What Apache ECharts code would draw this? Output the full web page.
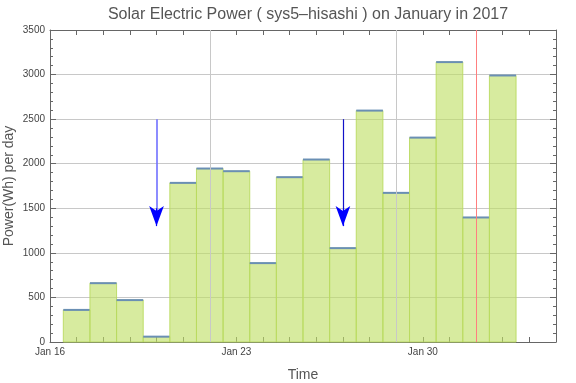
<!DOCTYPE html>
<html>
<head>
<meta charset="utf-8">
<script src="https://cdn.jsdelivr.net/npm/echarts@6/dist/echarts.min.js"></script>
<style>html,body{margin:0;padding:0;background:#fff}#c{width:576px;height:383px}</style>
</head>
<body>
<div id="c"></div>
<script>
// ---- data ----
var dates = ['2017-01-17','2017-01-18','2017-01-19','2017-01-20','2017-01-21','2017-01-22','2017-01-23','2017-01-24','2017-01-25','2017-01-26','2017-01-27','2017-01-28','2017-01-29','2017-01-30','2017-01-31','2017-02-01','2017-02-02'];
var power = [360, 660, 470, 60, 1785, 1946, 1916, 885, 1849, 2047, 1053, 2596, 1673, 2293, 3140, 1397, 2990];
var xLabelDates = ['2017-01-16','2017-01-23','2017-01-30'];
var gridDates = ['2017-01-22','2017-01-29'];
var markerDate = '2017-02-01';
var arrowDates = ['2017-01-20','2017-01-27'];
var arrowFrom = [2500, 2500];
var arrowTo = [1300, 1300];
var xMinDate = '2017-01-16', xMaxDate = '2017-02-04';
var yTicks = [0, 500, 1000, 1500, 2000, 2500, 3000, 3500];

var DAY = 86400000;
function ms(s){var p=s.split('-');return Date.UTC(+p[0],+p[1]-1,+p[2]);}
var MON = ['Jan','Feb','Mar','Apr','May','Jun','Jul','Aug','Sep','Oct','Nov','Dec'];
var labelSet = {};
xLabelDates.forEach(function(d){labelSet[ms(d)] = true;});

var barData = dates.map(function(d,i){return [ms(d), power[i]];});
var frameColor = '#666';
var FONT = 'Liberation Sans, Arial, sans-serif';
var chart = echarts.init(document.getElementById('c'), null, {renderer:'canvas'});

var arrowLines = [];
arrowDates.forEach(function(d,i){
  var shaftColor = i===0 ? '#7070ff' : '#1212c8';
  // shaft
  arrowLines.push([{coord:[ms(d), arrowFrom[i]], symbol:'none', lineStyle:{color:shaftColor, width: i===0 ? 1.6 : 1.2, type:'solid'}},
                   {coord:[ms(d), arrowTo[i] + 150], symbol:'none'}]);
  // head
  arrowLines.push([{coord:[ms(d), arrowTo[i] + 200], symbol:'none', lineStyle:{color:'#0000ff', width:1.2, type:'solid'}},
                   {coord:[ms(d), arrowTo[i]], symbol:'arrow', symbolSize:[11,20]}]);
});

chart.setOption({
  animation:false,
  backgroundColor:'#fff',
  title:{text:'Solar Electric Power ( sys5\u2013hisashi ) on January in 2017', left:303, top:2, textAlign:'center',
    textStyle:{fontFamily:FONT, fontWeight:'normal', fontSize:16, color:'#555'}},
  grid:{left:50, right:20, top:30, bottom:41, containLabel:false, outerBoundsMode:'none'},
  xAxis:[{
    type:'value', min:ms(xMinDate), max:ms(xMaxDate), interval:DAY,
    name:'Time', nameLocation:'middle', nameGap:26, nameMoveOverlap:false,
    nameTextStyle:{fontFamily:FONT, fontSize:14, color:'#555'},
    axisLine:{show:true, lineStyle:{color:frameColor, width:1}},
    axisTick:{show:true, inside:true, length:5, lineStyle:{color:frameColor}},
    axisLabel:{show:true, margin:5, fontSize:10, color:'#444', fontFamily:FONT, showMinLabel:true, showMaxLabel:true,
      formatter:function(v){ if(labelSet[v]){var d=new Date(v);return MON[d.getUTCMonth()]+' '+d.getUTCDate();} return ''; }},
    splitLine:{show:false}
  },{
    type:'value', position:'top', min:ms(xMinDate), max:ms(xMaxDate), interval:DAY,
    axisLine:{show:true, onZero:false, lineStyle:{color:frameColor, width:1}},
    axisTick:{show:true, inside:true, length:5, lineStyle:{color:frameColor}},
    axisLabel:{show:false}, splitLine:{show:false}
  }],
  yAxis:[{
    type:'value', min:yTicks[0], max:yTicks[yTicks.length-1], interval:500,
    name:'Power(Wh) per day', nameLocation:'middle', nameGap:34, nameMoveOverlap:false,
    nameTextStyle:{fontFamily:FONT, fontSize:14, color:'#555'},
    axisLine:{show:true, lineStyle:{color:frameColor, width:1}},
    axisTick:{show:true, inside:true, length:6, lineStyle:{color:frameColor}},
    minorTick:{show:true, splitNumber:5, length:3, lineStyle:{color:frameColor}},
    axisLabel:{fontSize:10, color:'#444', margin:5, fontFamily:FONT, formatter:function(v){return String(v);}},
    splitLine:{show:true, lineStyle:{color:'#c8c8c8', width:1}}
  },{
    type:'value', position:'right', min:yTicks[0], max:yTicks[yTicks.length-1], interval:500,
    axisLine:{show:true, onZero:false, lineStyle:{color:frameColor, width:1}},
    axisTick:{show:true, inside:true, length:6, lineStyle:{color:frameColor}},
    minorTick:{show:true, splitNumber:5, length:3, lineStyle:{color:frameColor}},
    axisLabel:{show:false}, splitLine:{show:false}
  }],
  series:[{
    type:'custom',
    data:barData,
    z:2,
    renderItem:function(params, api){
      var t = api.value(0), v = api.value(1);
      var p0 = api.coord([t - DAY/2, v]);
      var p1 = api.coord([t + DAY/2, 0]);
      return {type:'group', children:[
        {type:'rect', shape:{x:p0[0], y:p0[1], width:p1[0]-p0[0], height:p1[1]-p0[1]},
          style:{fill:'rgba(190,222,100,0.62)', stroke:'rgba(185,218,95,0.9)', lineWidth:1}},
        {type:'line', shape:{x1:p0[0], y1:p0[1], x2:p1[0], y2:p0[1]},
          style:{stroke:'#6a8fb4', lineWidth:2}}
      ]};
    },
    markLine:{
      silent:true, symbol:'none', label:{show:false}, animation:false,
      data: gridDates.map(function(d){return {xAxis:ms(d), lineStyle:{color:'#c8c8c8', width:1, type:'solid'}};})
        .concat([{xAxis:ms(markerDate), lineStyle:{color:'#ff7f7f', width:1, type:'solid'}}])
    }
  },{
    type:'line', data:[], z:5,
    markLine:{
      silent:true, symbol:'none', label:{show:false}, animation:false,
      data: arrowLines
    }
  }]
});
</script>
</body>
</html>
